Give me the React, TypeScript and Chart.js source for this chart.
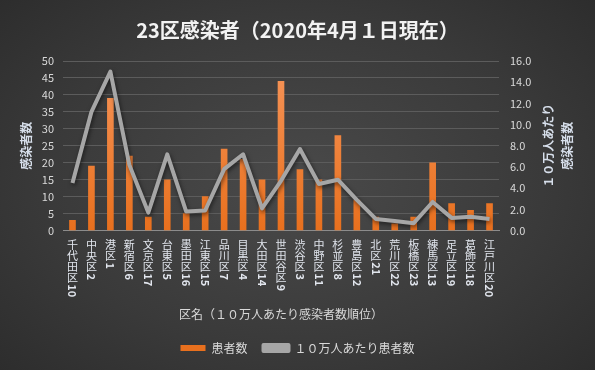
import React, { useEffect, useRef } from "react";
import { Chart, registerables } from "chart.js";

Chart.register(...registerables);

const wards = ["千代田区", "中央区", "港区", "新宿区", "文京区", "台東区", "墨田区", "江東区", "品川区", "目黒区", "大田区", "世田谷区", "渋谷区", "中野区", "杉並区", "豊島区", "北区", "荒川区", "板橋区", "練馬区", "足立区", "葛飾区", "江戸川区"];
const ranks = ["10", "2", "1", "6", "17", "5", "16", "15", "7", "4", "14", "9", "3", "11", "8", "12", "21", "22", "23", "13", "19", "18", "20"];
const patients = [3, 19, 39, 22, 4, 15, 5, 10, 24, 21, 15, 44, 18, 15, 28, 9, 4, 2, 4, 20, 8, 6, 8];
const per100k = [4.5, 11.2, 15.0, 6.2, 1.7, 7.2, 1.8, 1.9, 5.8, 7.2, 2.1, 4.7, 7.7, 4.4, 4.8, 2.9, 1.1, 0.9, 0.7, 2.7, 1.2, 1.3, 1.1];

const titleText = "23区感染者（2020年4月１日現在）";
const leftTitle = "感染者数";
const rightTitleLines = ["１０万人あたり", "感染者数"];
const xTitle = "区名（１０万人あたり感染者数順位）";
const barLabel = "患者数";
const lineLabel = "１０万人あたり患者数";

const FONT = "'Noto Sans CJK JP', 'Noto Sans', sans-serif";
const TICK_SIZE = 11;

const rightTitlePlugin = {
  id: "rightTitle",
  afterDraw(chart: any) {
    const ctx = chart.ctx;
    const area = chart.chartArea;
    const cy = (area.top + area.bottom) / 2;
    ctx.save();
    ctx.fillStyle = "#d6deea";
    ctx.font = `bold 12px ${FONT}`;
    ctx.textAlign = "center";
    ctx.textBaseline = "middle";
    const xs = [548, 567];
    rightTitleLines.forEach((t, i) => {
      ctx.save();
      ctx.translate(xs[i], cy);
      ctx.rotate(-Math.PI / 2);
      ctx.fillText(t, 0, 0);
      ctx.restore();
    });
    ctx.restore();
  },
};

// Vertical (tategaki) tick labels: upright kanji, rank digits turned 90° clockwise.
const verticalLabelsPlugin = {
  id: "verticalLabels",
  afterDraw(chart: any) {
    const ctx = chart.ctx;
    const xs = chart.scales.x;
    const top = chart.chartArea.bottom + 9;
    ctx.save();
    ctx.fillStyle = "#e2e6ee";
    ctx.font = `${TICK_SIZE}px ${FONT}`;
    ctx.textAlign = "center";
    ctx.textBaseline = "middle";
    wards.forEach((w, i) => {
      const x = xs.getPixelForTick(i);
      let y = top;
      Array.from(w).forEach((ch) => {
        ctx.fillText(ch, x, y + TICK_SIZE / 2);
        y += TICK_SIZE;
      });
      const num = ranks[i];
      const wdt = ctx.measureText(num).width;
      ctx.save();
      ctx.translate(x, y + 1 + wdt / 2);
      ctx.rotate(Math.PI / 2);
      ctx.font = `bold ${TICK_SIZE}px ${FONT}`;
      ctx.fillText(num, 0, 0);
      ctx.restore();
    });
    ctx.restore();
  },
};

const shadowPlugin = {
  id: "lineShadow",
  beforeDatasetDraw(chart: any, args: any) {
    if (args.meta.type === "line") {
      const ctx = chart.ctx;
      ctx.save();
      ctx.shadowColor = "rgba(0,0,0,0.55)";
      ctx.shadowBlur = 4;
      ctx.shadowOffsetX = 1;
      ctx.shadowOffsetY = 2;
    }
  },
  afterDatasetDraw(chart: any, args: any) {
    if (args.meta.type === "line") {
      chart.ctx.restore();
    }
  },
};

export default function App() {
  const ref = useRef<HTMLCanvasElement>(null);

  useEffect(() => {
    const canvas = ref.current!;
    const ctx = canvas.getContext("2d")!;
    const grad = ctx.createLinearGradient(0, 60, 0, 230);
    grad.addColorStop(0, "#f6955a");
    grad.addColorStop(1, "#e8701e");

    const labels = wards.map((w, i) => [...Array.from(w), ranks[i]]);

    const chart = new Chart(canvas, {
      type: "bar",
      data: {
        labels,
        datasets: [
          {
            type: "line",
            label: lineLabel,
            data: per100k,
            yAxisID: "y1",
            borderColor: "#a6a6a6",
            backgroundColor: "#a6a6a6",
            borderWidth: 4,
            pointRadius: 0,
            tension: 0,
            order: 0,
            borderJoinStyle: "round",
          } as any,
          {
            type: "bar",
            label: barLabel,
            data: patients,
            yAxisID: "y",
            backgroundColor: grad,
            borderWidth: 0,
            barThickness: 6,
            order: 1,
          },
        ],
      },
      options: {
        responsive: false,
        animation: false,
        layout: { padding: { left: 0, right: 0, top: 0, bottom: 6 } },
        plugins: {
          title: {
            display: true,
            text: titleText,
            color: "#f2f2f2",
            font: { family: FONT, size: 20, weight: "bold" },
            padding: { top: 18, bottom: 19 },
          },
          legend: {
            display: true,
            position: "bottom",
            labels: {
              color: "#d9d9d9",
              font: { family: FONT, size: 12 },
              boxWidth: 25,
              boxHeight: 6,
              padding: 16,
              sort: (a: any, b: any) => b.datasetIndex - a.datasetIndex,
            },
          },
          tooltip: { enabled: false },
        },
        scales: {
          x: {
            grid: { display: false, drawTicks: false },
            border: { display: true, color: "#8c8c8c", width: 1 },
            ticks: {
              color: "rgba(0,0,0,0)",
              font: { family: FONT, size: TICK_SIZE, lineHeight: 1.0 },
              maxRotation: 0,
              minRotation: 0,
              autoSkip: false,
              padding: 9,
            },
            title: {
              display: true,
              text: xTitle,
              color: "#d9d9d9",
              font: { family: FONT, size: 12 },
              padding: { top: 4, bottom: 4 },
            },
          },
          y: {
            position: "left",
            min: 0,
            max: 50,
            grid: { color: "#5c5c5c", lineWidth: 1, drawTicks: false },
            border: { display: false },
            ticks: {
              stepSize: 5,
              color: "#d9d9d9",
              font: { family: FONT, size: 11 },
              padding: 9,
            },
            title: {
              display: true,
              text: leftTitle,
              color: "#d6deea",
              font: { family: FONT, size: 12, weight: "bold" },
              padding: { top: 19, bottom: 0 },
            },
            afterFit: (s: any) => {
              s.width = 63;
            },
          },
          y1: {
            position: "right",
            min: 0,
            max: 16,
            grid: { display: false, drawTicks: false },
            border: { display: false },
            ticks: {
              stepSize: 2,
              color: "#d9d9d9",
              font: { family: FONT, size: 11 },
              padding: 11,
              callback: (v: any) => Number(v).toFixed(1),
            },
            afterFit: (s: any) => {
              s.width = 96;
            },
          },
        },
      },
      plugins: [rightTitlePlugin, verticalLabelsPlugin, shadowPlugin],
    });
    return () => chart.destroy();
  }, []);

  return (
    <div
      style={{
        position: "fixed",
        left: 0,
        top: 0,
        width: 595,
        height: 370,
        background: "radial-gradient(ellipse 75% 80% at 50% 50%, #4a4a4a 0%, #3a3a3a 55%, #2a2a2a 100%)",
      }}
    >
      <canvas ref={ref} width={595} height={370} />
    </div>
  );
}
